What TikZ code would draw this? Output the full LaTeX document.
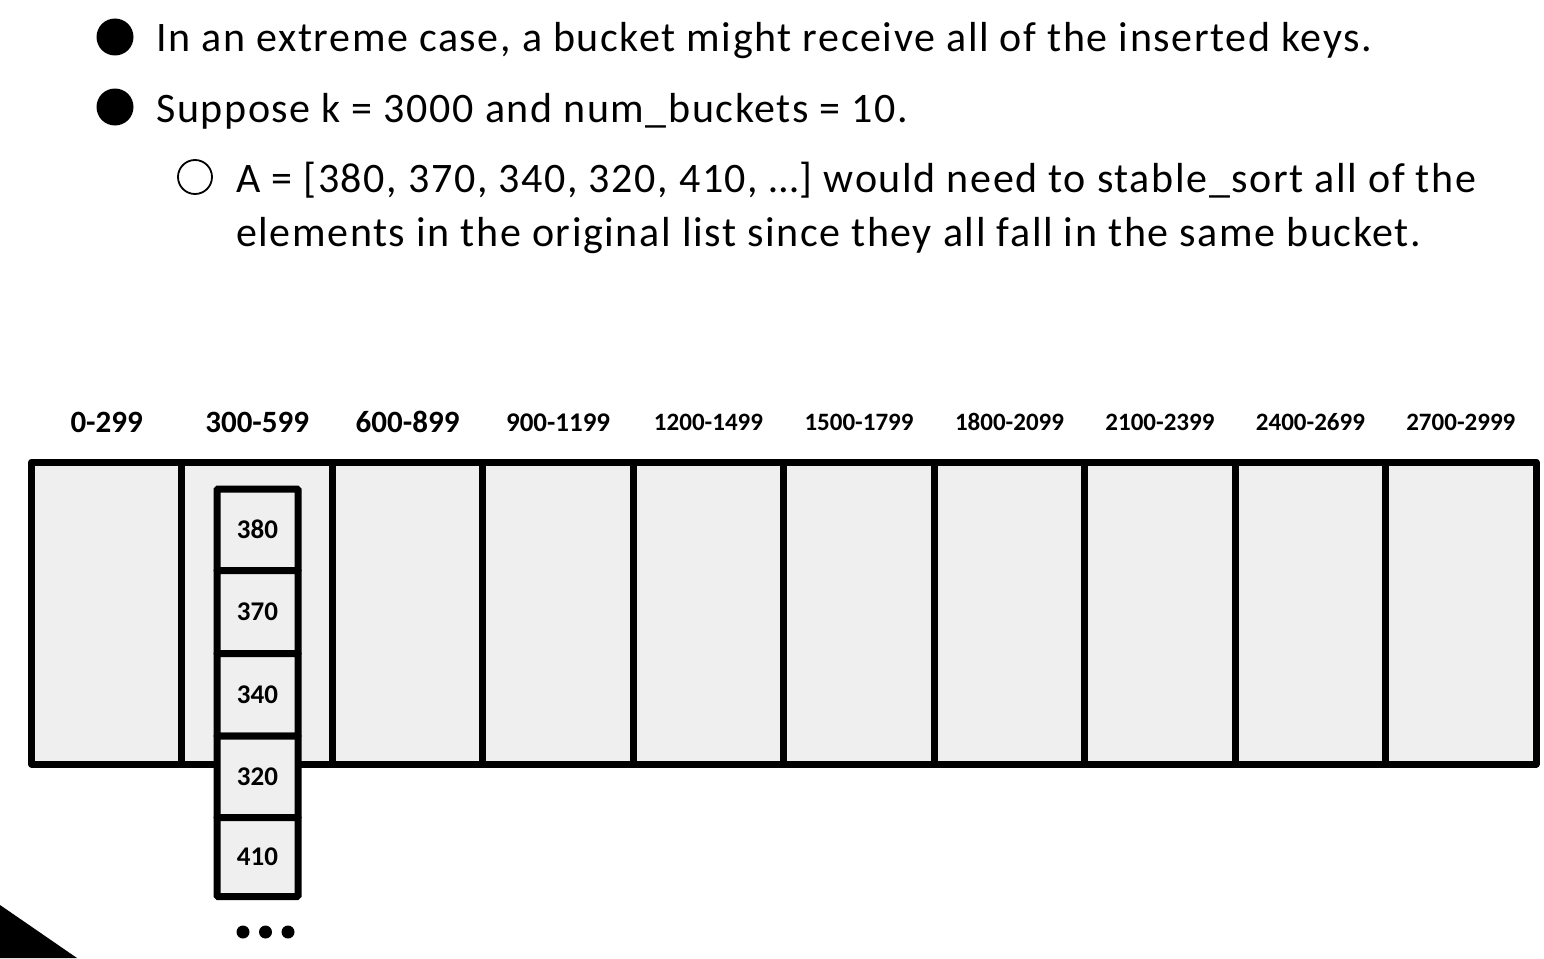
\documentclass[tikz,border=0pt]{standalone}
\usepackage{fontspec}
\setmainfont{Carlito}
\newfontfamily\bodyfont[LetterSpace=3.8]{Carlito}
\definecolor{cellfill}{HTML}{EFEFEF}
\begin{document}
\begin{tikzpicture}[x=1pt,y=-1pt,
  bodytext/.style={anchor=base west,inner sep=0pt,font=\bodyfont\fontsize{42}{46}\selectfont},
  biglabel/.style={anchor=base,inner sep=0pt,font=\fontsize{31}{34}\selectfont\bfseries},
  midlabel/.style={anchor=base,inner sep=0pt,font=\fontsize{27}{30}\selectfont\bfseries},
  smalllabel/.style={anchor=base,inner sep=0pt,font=\fontsize{25}{28}\selectfont\bfseries},
  itembox/.style={draw,line width=7pt,fill=cellfill,minimum width=81pt,minimum height=#1,inner sep=0pt,rounded corners=1pt,font=\fontsize{27}{30}\selectfont\bfseries},
  blackdot/.style={circle,fill=black,inner sep=0pt},
  hollowdot/.style={circle,draw,line width=1.8pt,inner sep=0pt,minimum size=34pt}]
\useasboundingbox (0,0) rectangle (1544,958);
% bullets
\node[blackdot,minimum size=37pt] (b1) at (115,37) {};
\node[blackdot,minimum size=37pt] (b2) at (115,107) {};
\node[hollowdot] (b3) at (195,177) {};
\node[bodytext] (t1) at (156,52) {In an extreme case, a bucket might receive all of the inserted keys.};
\node[bodytext] (t2) at (156,122) {Suppose k = 3000 and num\_buckets = 10.};
\node[bodytext] (t3) at (236,192) {A = [380, 370, 340, 320, 410, …] would need to stable\_sort all of the};
\node[bodytext] (t4) at (236,246) {elements in the original list since they all fall in the same bucket.};
% buckets
\fill[cellfill] (31.5,462) rectangle (1536,764);
\draw[line width=7pt,line join=round] (31.5,462) rectangle (1536,764);
\foreach \i in {1,...,9}{
  \draw[line width=7pt] ({31.5+150.45*\i},462) -- ({31.5+150.45*\i},764);
}
\node[biglabel] (l0) at (106.7,432) {0-299};
\node[biglabel] (l1) at (257.2,432) {300-599};
\node[biglabel] (l2) at (407.6,432) {600-899};
\node[midlabel] (l3) at (558.1,431) {900-1199};
\node[smalllabel] (l4) at (708.5,430) {1200-1499};
\node[smalllabel] (l5) at (859.0,430) {1500-1799};
\node[smalllabel] (l6) at (1009.5,430) {1800-2099};
\node[smalllabel] (l7) at (1159.9,430) {2100-2399};
\node[smalllabel] (l8) at (1310.4,430) {2400-2699};
\node[smalllabel] (l9) at (1460.8,430) {2700-2999};
% items
\node[itembox=81.5pt] (i1) at (257.5,529.75) {380};
\node[itembox=83pt] (i2) at (257.5,612) {370};
\node[itembox=82.5pt] (i3) at (257.5,694.75) {340};
\node[itembox=81.5pt] (i4) at (257.5,776.75) {320};
\node[itembox=79pt] (i5) at (257.5,857) {410};
\node[blackdot,minimum size=13pt] (d1) at (243,932) {};
\node[blackdot,minimum size=13pt] (d2) at (265.5,932) {};
\node[blackdot,minimum size=13pt] (d3) at (288,932) {};
% corner triangle
\fill (0,905) -- (77,958) -- (0,958) -- cycle;
\end{tikzpicture}
\end{document}
